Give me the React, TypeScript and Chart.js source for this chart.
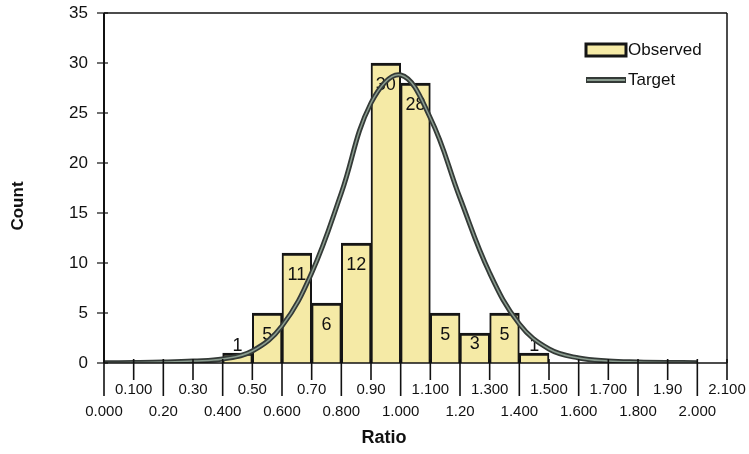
import React, { useEffect, useRef } from 'react';
import { Chart, registerables } from 'chart.js';

Chart.register(...registerables);

const FONT = '"Liberation Sans", Arial, Helvetica, sans-serif';

// Histogram bins (centres) and observed counts
const binCenters = [0.45, 0.55, 0.65, 0.75, 0.85, 0.95, 1.05, 1.15, 1.25, 1.35, 1.45];
const observedCounts = [1, 5, 11, 6, 12, 30, 28, 5, 3, 5, 1];

// Target curve
const targetX = [0.0, 0.1, 0.2, 0.3, 0.4, 0.5, 0.6, 0.7, 0.8, 0.9, 1.0, 1.1, 1.2, 1.3, 1.4, 1.5, 1.6, 1.7, 1.8, 1.9, 2.0];
const targetY = [0.02, 0.05, 0.1, 0.2, 0.4, 1.2, 3.7, 9.0, 17.0, 26.0, 28.8, 24.5, 16.5, 9.0, 3.9, 1.4, 0.5, 0.2, 0.1, 0.05, 0.03];

// X tick positions and labels (alternating rows)
const xTickValues = [0, 0.1, 0.2, 0.3, 0.4, 0.5, 0.6, 0.7, 0.8, 0.9, 1.0, 1.1, 1.2, 1.3, 1.4, 1.5, 1.6, 1.7, 1.8, 1.9, 2.0, 2.1];
const xTickLabels = ['0.000', '0.100', '0.20', '0.30', '0.400', '0.50', '0.600', '0.70', '0.800', '0.90', '1.000', '1.100', '1.20', '1.300', '1.400', '1.500', '1.600', '1.700', '1.800', '1.90', '2.000', '2.100'];

const yMin = 0;
const yMax = 35;
const yStep = 5;

const BAR_FILL = '#f5eaa6';
const BAR_EDGE = '#151515';
const CURVE_DARK = '#343a37';
const CURVE_LIGHT = '#8a9c8f';

const overlayPlugin = {
  id: 'overlay',
  afterDatasetDraw(chart: any, args: any) {
    if (args.index !== 0) return;
    const ctx = chart.ctx;
    const meta = chart.getDatasetMeta(0);
    ctx.save();
    ctx.fillStyle = '#111';
    ctx.font = `18px ${FONT}`;
    ctx.textAlign = 'center';
    ctx.textBaseline = 'middle';
    meta.data.forEach((bar: any, i: number) => {
      const h = bar.base - bar.y;
      let off;
      if (h >= 44) off = 22;
      else if (h >= 20) off = h / 2 - 4;
      else off = -7;
      ctx.fillText(String(observedCounts[i]), bar.x, bar.y + off);
    });
    ctx.restore();
  },
  afterDraw(chart: any) {
    const ctx = chart.ctx;
    const { left, right, top, bottom } = chart.chartArea;
    const xs = chart.scales.x;
    const ys = chart.scales.y;
    const line = (x1: number, y1: number, x2: number, y2: number) => {
      ctx.beginPath();
      ctx.moveTo(x1, y1);
      ctx.lineTo(x2, y2);
      ctx.stroke();
    };
    ctx.save();
    ctx.strokeStyle = '#111';
    ctx.lineCap = 'butt';
    // frame
    ctx.lineWidth = 1.5;
    line(left, top, right, top);
    line(right, top, right, bottom);
    line(left, bottom, right, bottom);
    ctx.lineWidth = 2;
    line(left, top, left, bottom);
    // x ticks
    ctx.lineWidth = 1.6;
    xs.ticks.forEach((t: any, i: number) => {
      const px = xs.getPixelForValue(t.value);
      const len = i % 2 === 0 ? 33 : 17;
      line(px, bottom - 4, px, bottom + len);
    });
    // y ticks
    ctx.lineWidth = 1.2;
    ys.ticks.forEach((t: any) => {
      const py = ys.getPixelForValue(t.value);
      line(left - 7, py, left + 4, py);
    });

    // legend
    const lx = 586;
    const lw = 40;
    ctx.fillStyle = BAR_FILL;
    ctx.fillRect(lx, 44, lw, 12);
    ctx.lineWidth = 3;
    ctx.strokeStyle = BAR_EDGE;
    ctx.strokeRect(lx, 44, lw, 12);
    ctx.lineWidth = 6;
    ctx.strokeStyle = CURVE_DARK;
    line(lx, 80, lx + lw, 80);
    ctx.lineWidth = 2;
    ctx.strokeStyle = CURVE_LIGHT;
    line(lx + 1, 80, lx + lw - 1, 80);
    ctx.fillStyle = '#111';
    ctx.font = `17px ${FONT}`;
    ctx.textAlign = 'left';
    ctx.textBaseline = 'middle';
    ctx.fillText('Observed', lx + lw + 2, 50);
    ctx.fillText('Target', lx + lw + 2, 80);

    // axis titles
    ctx.font = `bold 18px ${FONT}`;
    ctx.textAlign = 'center';
    ctx.fillText('Ratio', 384, 438);
    ctx.save();
    ctx.translate(18, 206);
    ctx.rotate(-Math.PI / 2);
    ctx.font = `bold 17px ${FONT}`;
    ctx.fillText('Count', 0, 0);
    ctx.restore();
    ctx.restore();
  },
};

export default function App() {
  const canvasRef = useRef<HTMLCanvasElement | null>(null);

  useEffect(() => {
    if (!canvasRef.current) return;
    Chart.defaults.font.family = FONT;
    const barData = binCenters.map((x, i) => ({ x, y: observedCounts[i] }));
    const curveData = targetX.map((x, i) => ({ x, y: targetY[i] }));
    const chart = new Chart(canvasRef.current, {
      type: 'bar',
      data: {
        datasets: [
          {
            type: 'bar',
            label: 'Observed',
            data: barData as any,
            backgroundColor: BAR_FILL,
            borderColor: BAR_EDGE,
            borderWidth: { top: 3, left: 2, right: 2, bottom: 0 },
            borderSkipped: false,
            barPercentage: 1,
            categoryPercentage: 1,
            order: 3,
          } as any,
          {
            type: 'line',
            label: 'Target',
            data: curveData as any,
            borderColor: CURVE_DARK,
            borderWidth: 5,
            pointRadius: 0,
            tension: 0.4,
            fill: false,
            order: 2,
          } as any,
          {
            type: 'line',
            label: 'Target inner',
            data: curveData as any,
            borderColor: CURVE_LIGHT,
            borderWidth: 1.5,
            pointRadius: 0,
            tension: 0.4,
            fill: false,
            order: 1,
          } as any,
        ],
      },
      options: {
        responsive: false,
        animation: false,
        devicePixelRatio: 1,
        layout: { padding: { left: 0, right: 22, top: 13, bottom: 0 } },
        plugins: {
          legend: { display: false },
          tooltip: { enabled: false },
          title: { display: false },
        },
        scales: {
          x: {
            type: 'linear',
            min: 0,
            max: 2.1,
            offset: false,
            grid: { display: false, drawTicks: false },
            border: { display: false },
            afterBuildTicks: (s: any) => {
              s.ticks = xTickValues.map((v) => ({ value: v }));
            },
            afterFit: (s: any) => {
              s.height = 91;
              s.paddingLeft = 0;
              s.paddingRight = 0;
              s.paddingTop = 0;
              s.paddingBottom = 0;
            },
            ticks: {
              autoSkip: false,
              maxRotation: 0,
              minRotation: 0,
              padding: 16,
              color: '#111',
              font: { family: FONT, size: 15, lineHeight: '22px' },
              callback: (_v: any, i: number) =>
                i % 2 === 0 ? ['', xTickLabels[i]] : [xTickLabels[i], ''],
            },
          } as any,
          y: {
            min: yMin,
            max: yMax,
            grid: { display: false, drawTicks: false },
            border: { display: false },
            afterFit: (s: any) => {
              s.width = 104;
              s.paddingLeft = 0;
              s.paddingRight = 0;
              s.paddingTop = 0;
              s.paddingBottom = 0;
            },
            ticks: {
              stepSize: yStep,
              padding: 16,
              color: '#111',
              font: { family: FONT, size: 17 },
            },
          } as any,
        },
      },
      plugins: [overlayPlugin],
    });
    return () => chart.destroy();
  }, []);

  return (
    <div style={{ position: 'fixed', left: 0, top: 0, width: 749, height: 454, background: '#fff' }}>
      <canvas ref={canvasRef} width={749} height={454} />
    </div>
  );
}
